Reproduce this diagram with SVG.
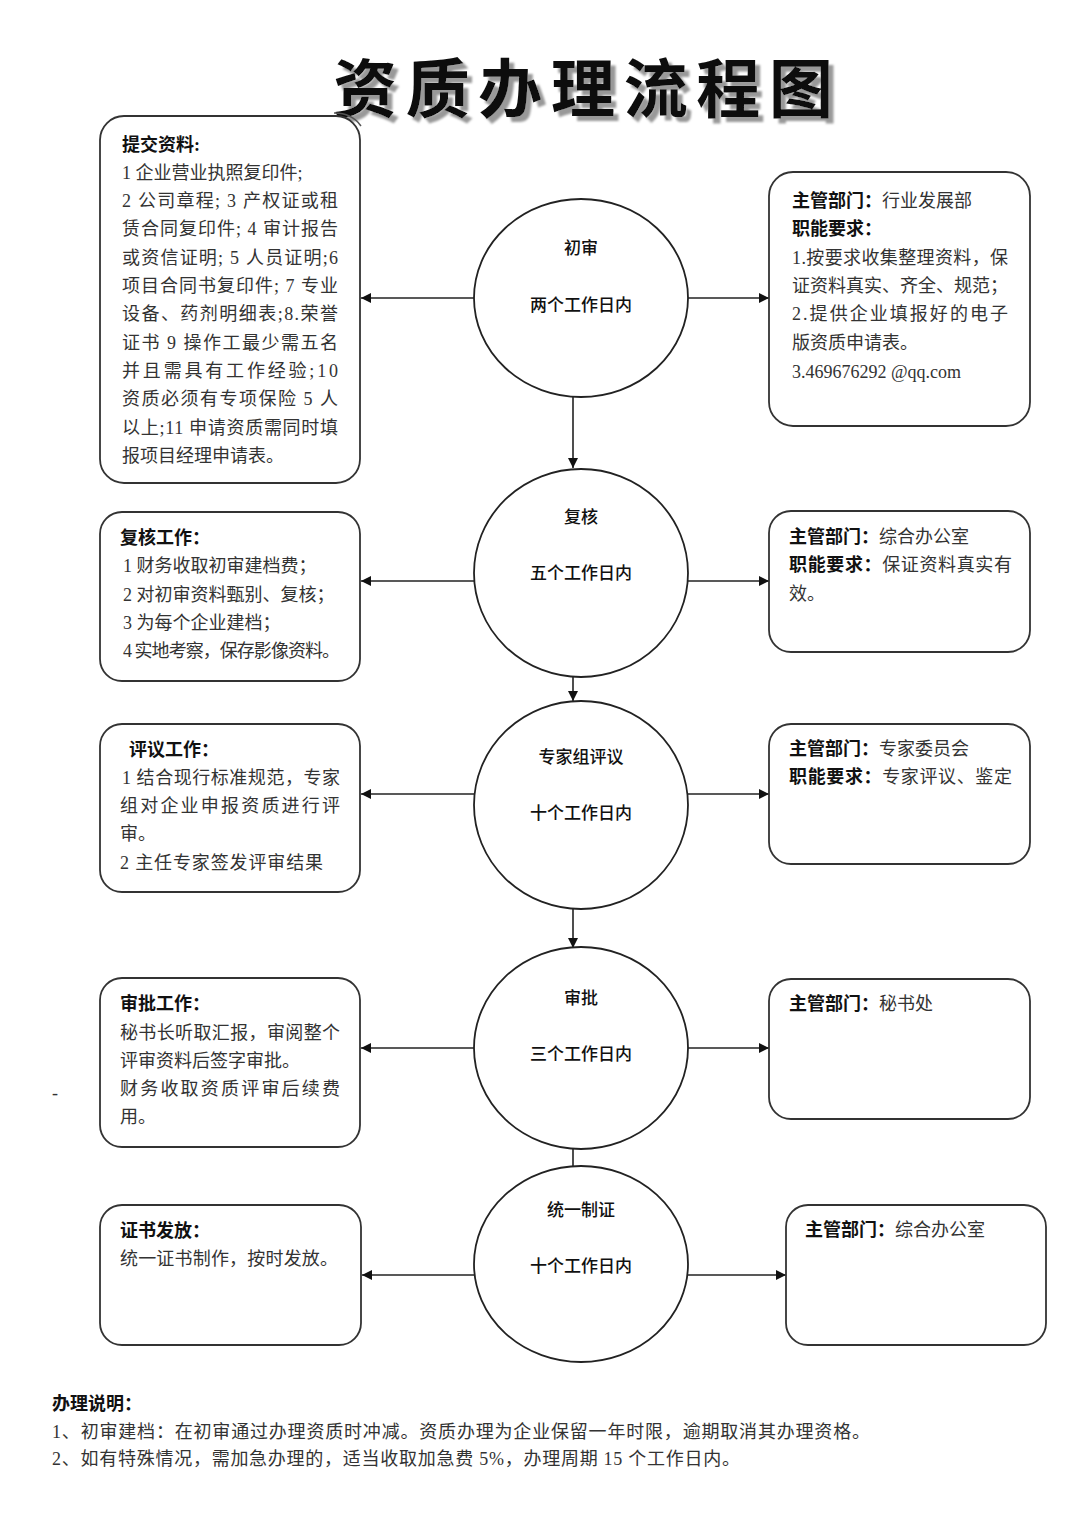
<svg xmlns="http://www.w3.org/2000/svg" width="1080" height="1527" viewBox="0 0 1080 1527">
<defs>
<marker id="ah" viewBox="0 0 10 10" refX="10" refY="5" markerWidth="10" markerHeight="10" markerUnits="userSpaceOnUse" orient="auto">
<path d="M0,0 L10,5 L0,10 z" fill="#111"/>
</marker>
<filter id="sh" x="-5%" y="-20%" width="115%" height="150%">
<feDropShadow dx="5" dy="5" stdDeviation="1" flood-color="#999" flood-opacity="1"/>
</filter>
<style>
.box{fill:#fff;stroke:#333;stroke-width:1.8}
.circ{fill:#fff;stroke:#222;stroke-width:1.8}
.t{font-family:"Liberation Serif","Noto Sans CJK SC",serif;font-size:18px;fill:#333}
.b{font-weight:bold;fill:#111}
.c{font-family:"Noto Sans CJK SC",sans-serif;font-size:17px;fill:#111;text-anchor:middle;font-weight:500}
.ln{stroke:#222;stroke-width:1.6;fill:none}
.title{font-family:"Noto Sans CJK SC",sans-serif;font-size:64px;font-weight:bold}
</style>
</defs>
<rect width="1080" height="1527" fill="#fff"/>
<g id="title">
<text class="title" x="333" y="112" textLength="500" lengthAdjust="spacing" fill="#111" filter="url(#sh)">资质办理流程图</text>
<path d="M334 113 Q352 113 361 126" stroke="#555" stroke-width="1.5" fill="none"/>
</g>
<g id="connectors">
<line class="ln" x1="475" y1="298" x2="361" y2="298" marker-end="url(#ah)"/>
<line class="ln" x1="688" y1="298" x2="769" y2="298" marker-end="url(#ah)"/>
<line class="ln" x1="573" y1="397" x2="573" y2="468" marker-end="url(#ah)"/>
<line class="ln" x1="475" y1="581" x2="361" y2="581" marker-end="url(#ah)"/>
<line class="ln" x1="688" y1="581" x2="769" y2="581" marker-end="url(#ah)"/>
<line class="ln" x1="573" y1="677" x2="573" y2="701" marker-end="url(#ah)"/>
<line class="ln" x1="475" y1="794" x2="361" y2="794" marker-end="url(#ah)"/>
<line class="ln" x1="688" y1="794" x2="769" y2="794" marker-end="url(#ah)"/>
<line class="ln" x1="573" y1="907" x2="573" y2="948" marker-end="url(#ah)"/>
<line class="ln" x1="475" y1="1048" x2="361" y2="1048" marker-end="url(#ah)"/>
<line class="ln" x1="688" y1="1048" x2="769" y2="1048" marker-end="url(#ah)"/>
<line class="ln" x1="573" y1="1148" x2="573" y2="1166"/>
<line class="ln" x1="475" y1="1275" x2="362" y2="1275" marker-end="url(#ah)"/>
<line class="ln" x1="688" y1="1275" x2="786" y2="1275" marker-end="url(#ah)"/>
</g>
<g id="n1">
<ellipse class="circ" cx="581" cy="298" rx="107" ry="99"/>
<text class="c" x="581" y="254">初审</text>
<text class="c" x="581" y="311">两个工作日内</text>
</g>
<g id="n2">
<ellipse class="circ" cx="581" cy="573" rx="107" ry="104"/>
<text class="c" x="581" y="523">复核</text>
<text class="c" x="581" y="579">五个工作日内</text>
</g>
<g id="n3">
<ellipse class="circ" cx="581" cy="805" rx="107" ry="104"/>
<text class="c" x="581" y="763">专家组评议</text>
<text class="c" x="581" y="819">十个工作日内</text>
</g>
<g id="n4">
<ellipse class="circ" cx="581" cy="1048" rx="107" ry="101"/>
<text class="c" x="581" y="1004">审批</text>
<text class="c" x="581" y="1060">三个工作日内</text>
</g>
<g id="n5">
<ellipse class="circ" cx="581" cy="1264" rx="107" ry="98"/>
<text class="c" x="581" y="1216">统一制证</text>
<text class="c" x="581" y="1272">十个工作日内</text>
</g>
<g id="L1">
<rect class="box" x="100" y="116" width="260" height="367" rx="24"/>
<text class="t b" x="122" y="151">提交资料:</text>
<text class="t" x="122" y="179">1 企业营业执照复印件;</text>
<text class="t" x="122" y="207" textLength="216" lengthAdjust="spacing">2 公司章程; 3 产权证或租</text>
<text class="t" x="122" y="235" textLength="216" lengthAdjust="spacing">赁合同复印件; 4 审计报告</text>
<text class="t" x="122" y="264" textLength="216" lengthAdjust="spacing">或资信证明; 5 人员证明;6</text>
<text class="t" x="122" y="292" textLength="216" lengthAdjust="spacing">项目合同书复印件; 7 专业</text>
<text class="t" x="122" y="320" textLength="216" lengthAdjust="spacing">设备、药剂明细表;8.荣誉</text>
<text class="t" x="122" y="349" textLength="216" lengthAdjust="spacing">证书 9 操作工最少需五名</text>
<text class="t" x="122" y="377" textLength="216" lengthAdjust="spacing">并且需具有工作经验;10</text>
<text class="t" x="122" y="405" textLength="216" lengthAdjust="spacing">资质必须有专项保险 5 人</text>
<text class="t" x="122" y="434" textLength="216" lengthAdjust="spacing">以上;11 申请资质需同时填</text>
<text class="t" x="122" y="462">报项目经理申请表。</text>
</g>
<g id="R1">
<rect class="box" x="769" y="172" width="261" height="254" rx="24"/>
<text class="t" x="792" y="207"><tspan class="b">主管部门：</tspan>行业发展部</text>
<text class="t b" x="792" y="235">职能要求：</text>
<text class="t" x="792" y="264" textLength="216" lengthAdjust="spacing">1.按要求收集整理资料，保</text>
<text class="t" x="792" y="292" textLength="216" lengthAdjust="spacing">证资料真实、齐全、规范；</text>
<text class="t" x="792" y="320" textLength="216" lengthAdjust="spacing">2.提供企业填报好的电子</text>
<text class="t" x="792" y="349">版资质申请表。</text>
<text class="t" x="792" y="378">3.469676292 @qq.com</text>
</g>
<g id="L2">
<rect class="box" x="100" y="512" width="260" height="169" rx="22"/>
<text class="t b" x="120" y="544">复核工作：</text>
<text class="t" x="123" y="572">1 财务收取初审建档费；</text>
<text class="t" x="123" y="601">2 对初审资料甄别、复核；</text>
<text class="t" x="123" y="629">3 为每个企业建档；</text>
<text class="t" x="123" y="657" textLength="217" lengthAdjust="spacing">4 实地考察，保存影像资料。</text>
</g>
<g id="R2">
<rect class="box" x="769" y="511" width="261" height="141" rx="22"/>
<text class="t" x="789" y="543"><tspan class="b">主管部门：</tspan>综合办公室</text>
<text class="t" x="789" y="571" textLength="223" lengthAdjust="spacing"><tspan class="b">职能要求：</tspan>保证资料真实有</text>
<text class="t" x="789" y="600">效。</text>
</g>
<g id="L3">
<rect class="box" x="100" y="724" width="260" height="168" rx="22"/>
<text class="t b" x="129" y="756">评议工作：</text>
<text class="t" x="122" y="784" textLength="218" lengthAdjust="spacing">1 结合现行标准规范，专家</text>
<text class="t" x="120" y="812" textLength="220" lengthAdjust="spacing">组对企业申报资质进行评</text>
<text class="t" x="120" y="840">审。</text>
<text class="t" x="120" y="869" textLength="203" lengthAdjust="spacing">2 主任专家签发评审结果</text>
</g>
<g id="R3">
<rect class="box" x="769" y="724" width="261" height="140" rx="22"/>
<text class="t" x="789" y="755"><tspan class="b">主管部门：</tspan>专家委员会</text>
<text class="t" x="789" y="783" textLength="223" lengthAdjust="spacing"><tspan class="b">职能要求：</tspan>专家评议、鉴定</text>
</g>
<g id="L4">
<rect class="box" x="100" y="978" width="260" height="169" rx="22"/>
<text class="t b" x="120" y="1010">审批工作：</text>
<text class="t" x="120" y="1039" textLength="220" lengthAdjust="spacing">秘书长听取汇报，审阅整个</text>
<text class="t" x="120" y="1067">评审资料后签字审批。</text>
<text class="t" x="120" y="1095" textLength="220" lengthAdjust="spacing">财务收取资质评审后续费</text>
<text class="t" x="120" y="1123">用。</text>
</g>
<g id="R4">
<rect class="box" x="769" y="979" width="261" height="140" rx="22"/>
<text class="t" x="789" y="1010"><tspan class="b">主管部门：</tspan>秘书处</text>
</g>
<g id="L5">
<rect class="box" x="100" y="1205" width="261" height="140" rx="22"/>
<text class="t b" x="120" y="1237">证书发放：</text>
<text class="t" x="120" y="1265" textLength="218" lengthAdjust="spacing">统一证书制作，按时发放。</text>
</g>
<g id="R5">
<rect class="box" x="786" y="1205" width="260" height="140" rx="22"/>
<text class="t" x="805" y="1236"><tspan class="b">主管部门：</tspan>综合办公室</text>
</g>
<g id="notes">
<text class="t" x="52" y="1099">-</text>
<text class="t b" x="52" y="1410">办理说明：</text>
<text class="t" x="52" y="1438" textLength="818" lengthAdjust="spacing">1、初审建档：在初审通过办理资质时冲减。资质办理为企业保留一年时限，逾期取消其办理资格。</text>
<text class="t" x="52" y="1465" textLength="688" lengthAdjust="spacing">2、如有特殊情况，需加急办理的，适当收取加急费 5%，办理周期 15 个工作日内。</text>
</g>
</svg>
